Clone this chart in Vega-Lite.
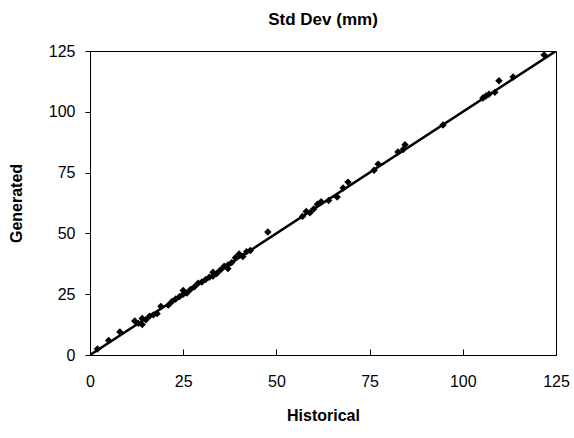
{
  "$schema": "https://vega.github.io/schema/vega-lite/v6.json",
  "width": 466,
  "height": 304,
  "autosize": "none",
  "padding": {"left": 90, "top": 51, "right": 18, "bottom": 83},
  "background": "white",
  "config": {
    "view": {"stroke": "black", "strokeWidth": 1},
    "font": "Liberation Sans",
    "title": {"font": "Liberation Sans", "fontSize": 17, "fontWeight": "bold", "color": "black"},
    "axis": {
      "grid": false,
      "domainColor": "black",
      "tickColor": "black",
      "labelColor": "black",
      "titleColor": "black",
      "labelFont": "Liberation Sans",
      "titleFont": "Liberation Sans",
      "labelFontSize": 16,
      "titleFontSize": 16,
      "titleFontWeight": "bold",
      "labelFlush": false,
      "labelOverlap": false
    }
  },
  "title": {"text": "Std Dev (mm)", "offset": 14},
  "datasets": {
    "pts": [
      {"Historical": 2, "Generated": 2.5},
      {"Historical": 5, "Generated": 6},
      {"Historical": 8, "Generated": 9.5},
      {"Historical": 12, "Generated": 14},
      {"Historical": 13, "Generated": 13},
      {"Historical": 14, "Generated": 12.5},
      {"Historical": 14, "Generated": 15},
      {"Historical": 15, "Generated": 14.5},
      {"Historical": 16, "Generated": 16},
      {"Historical": 17, "Generated": 16.5},
      {"Historical": 18, "Generated": 17},
      {"Historical": 19, "Generated": 20},
      {"Historical": 21, "Generated": 20.5},
      {"Historical": 22, "Generated": 22},
      {"Historical": 23, "Generated": 23},
      {"Historical": 24, "Generated": 24},
      {"Historical": 25, "Generated": 25},
      {"Historical": 25, "Generated": 26.5},
      {"Historical": 26, "Generated": 25.5},
      {"Historical": 27, "Generated": 27},
      {"Historical": 28, "Generated": 28},
      {"Historical": 29, "Generated": 29.5},
      {"Historical": 30, "Generated": 30},
      {"Historical": 31, "Generated": 31},
      {"Historical": 32, "Generated": 32},
      {"Historical": 33, "Generated": 32.5},
      {"Historical": 33, "Generated": 34},
      {"Historical": 34, "Generated": 33.5},
      {"Historical": 35, "Generated": 35},
      {"Historical": 36, "Generated": 36.5},
      {"Historical": 37, "Generated": 35.5},
      {"Historical": 37, "Generated": 37},
      {"Historical": 38, "Generated": 38},
      {"Historical": 39, "Generated": 40},
      {"Historical": 40, "Generated": 41.5},
      {"Historical": 41, "Generated": 40.5},
      {"Historical": 42, "Generated": 42.5},
      {"Historical": 43, "Generated": 43},
      {"Historical": 47.7, "Generated": 50.6},
      {"Historical": 57, "Generated": 57},
      {"Historical": 58, "Generated": 59},
      {"Historical": 59, "Generated": 58.5},
      {"Historical": 60, "Generated": 60},
      {"Historical": 61, "Generated": 62},
      {"Historical": 62, "Generated": 63},
      {"Historical": 64, "Generated": 63.5},
      {"Historical": 66.3, "Generated": 65},
      {"Historical": 67.9, "Generated": 68.7},
      {"Historical": 69.2, "Generated": 71.1},
      {"Historical": 76.2, "Generated": 76},
      {"Historical": 77.3, "Generated": 78.5},
      {"Historical": 82.6, "Generated": 83.5},
      {"Historical": 84, "Generated": 84.5},
      {"Historical": 84.5, "Generated": 86.5},
      {"Historical": 94.7, "Generated": 94.6},
      {"Historical": 105.4, "Generated": 105.7},
      {"Historical": 106.2, "Generated": 106.5},
      {"Historical": 107, "Generated": 107.2},
      {"Historical": 108.6, "Generated": 108},
      {"Historical": 109.7, "Generated": 112.8},
      {"Historical": 113.5, "Generated": 114.3},
      {"Historical": 121.8, "Generated": 123.4}
    ],
    "diag": [
      {"Historical": 0, "Generated": 0},
      {"Historical": 125, "Generated": 125}
    ]
  },
  "layer": [
    {
      "data": {"name": "diag"},
      "mark": {"type": "line", "color": "black", "strokeWidth": 2.5, "clip": true},
      "encoding": {
        "x": {"field": "Historical", "type": "quantitative", "scale": {"domain": [0, 125], "nice": false}, "axis": {"values": [0, 25, 50, 75, 100, 125], "title": "Historical", "tickSize": -6, "labelPadding": 24, "titlePadding": 18}},
        "y": {"field": "Generated", "type": "quantitative", "scale": {"domain": [0, 125], "nice": false}, "axis": {"values": [0, 25, 50, 75, 100, 125], "title": "Generated", "tickSize": 5, "labelPadding": 10, "titlePadding": 24}}
      }
    },
    {
      "data": {"name": "pts"},
      "mark": {"type": "point", "shape": "diamond", "filled": true, "color": "black", "opacity": 1, "size": 55},
      "encoding": {
        "x": {"field": "Historical", "type": "quantitative"},
        "y": {"field": "Generated", "type": "quantitative"}
      }
    }
  ]
}
